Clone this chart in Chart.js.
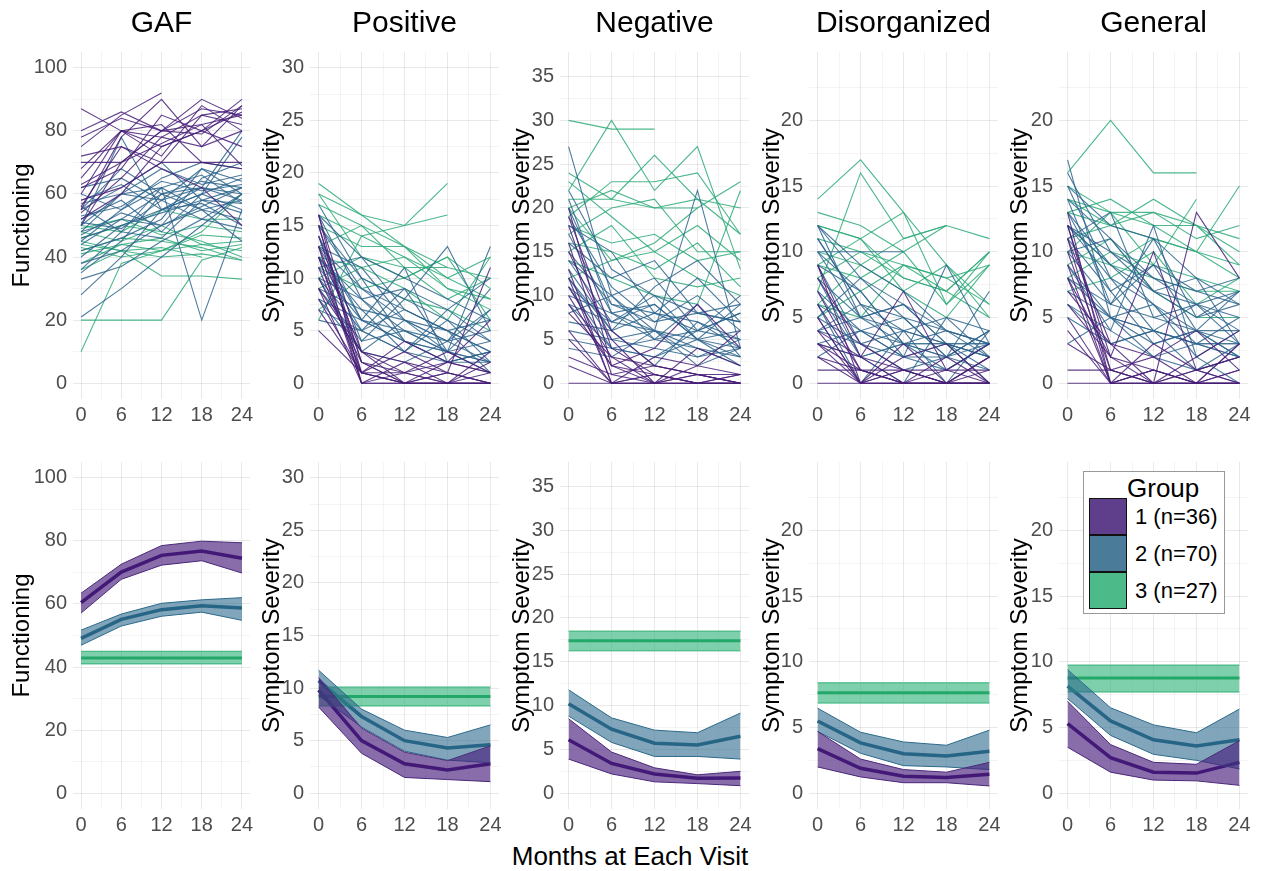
<!DOCTYPE html>
<html>
<head>
<meta charset="utf-8">
<script src="https://cdn.jsdelivr.net/npm/chart.js@4.4.1/dist/chart.umd.min.js"></script>
<style>
  body { margin: 0; background: #fff; font-family: "Liberation Sans", Arial, sans-serif; }
  #wrap { position: relative; width: 1269px; height: 871px; overflow: hidden; }
  canvas { position: absolute; }
  .ttl { position: absolute; font-size: 30px; line-height: 30px; color: #000; text-align: center; }
  #xlab { position: absolute; left: 0; width: 1260px; top: 843px; font-size: 26px; line-height: 26px; text-align: center; }
  #legend { position: absolute; left: 1083px; top: 471px; width: 140px; height: 141px; border: 1px solid #999; background: #fff; }
  #legend .gt { position: absolute; left: 43px; top: 3px; font-size: 26px; line-height: 26px; }
  #legend .sw { position: absolute; left: 5px; width: 36px; height: 35px; border: 1.5px solid #111; }
  #legend .lb { position: absolute; left: 51px; font-size: 22px; line-height: 22px; }
</style>
</head>
<body>
<div id="wrap"></div>
<script>
// visit months
const months = [0, 6, 12, 18, 24];
const panels = ['GAF', 'Positive', 'Negative', 'Disorganized', 'General'];
const yTitles = ['Functioning', 'Symptom Severity', 'Symptom Severity', 'Symptom Severity', 'Symptom Severity'];
const groupLabels = ['1 (n=36)', '2 (n=70)', '3 (n=27)'];

// ---- individual trajectories (top row), per group ----
const gafG1 = [[60,80,78,85,87],[70,70,80,82,85],[55,78,90,75,88],[87,80,75,80,86],[75,85,92,null,null],
  [50,70,80,90,84],[58,62,70,70,70],[65,80,72,88,80],[52,60,75,80,90],[78,84,80,87,85],[56,75,68,62,50],
  [62,68,85,80,75],[68,80,82,70,68],[72,75,70,85,82],[54,65,78,75,80],[80,86,80,79,88],[63,70,76,82,69]];
const gafG2 = [[50,60,58,62,60],[45,55,62,55,58],[40,50,55,60,65],[55,62,70,58,62],[48,52,50,65,70],
  [35,45,60,55,52],[60,55,65,70,68],[52,58,48,60,55],[48,60,62,20,55],[28,40,55,62,58],[55,68,60,62,80],
  [38,42,50,55,45],[62,65,58,68,60],[21,30,40,50,60],[50,78,55,60,78],[46,50,54,58,57],
  [53,56,64,61,63],[42,46,52,68,64],[58,63,55,57,50],[44,52,60,64,62],[51,49,58,52,60],[36,48,46,58,54],
  [57,60,68,63,66],[47,54,50,56,62],[33,37,45,52,49],[56,48,62,66,57]];
const gafG3 = [[44,42,43,40,null],[48,45,50,44,42],[10,38,42,44,45],[20,20,20,39,43],[45,42,34,34,33],
  [42,46,45,43,39],[50,48,55,52,52],[38,44,42,48,60],
  [41,44,46,42,44],[46,50,48,45,40],[43,40,42,47,46],[49,52,47,50,48],[36,42,40,41,39]];

const posG1 = [[15,1,0,0,0],[12,0,2,1,0],[10,2,1,3,1],[16,3,0,2,1],[8,1,0,0,3],[5,1,1,0,0],
  [13,0,0,1,11],[9,3,2,0,0],[11,1,4,2,6],[14,2,0,0,1],
  [12,1,0,1,0],[9,0,1,0,0],[15,2,0,0,2],[7,1,3,1,0],[13,3,1,2,1],[16,0,0,0,0]];
const posG2 = [[13,6,4,2,3],[16,8,5,4,2],[10,5,9,3,2],[12,7,3,6,4],[15,9,6,4,9],[9,4,5,3,1],
  [11,12,7,5,3],[17,10,8,13,5],[8,3,6,4,7],[14,6,11,2,3],[12,5,3,7,4],[10,8,4,2,2],[7,5,7,5,3],[13,11,6,3,13],
  [11,6,5,3,4],[14,4,8,6,2],[9,7,6,5,6],[15,10,4,3,7],[6,5,3,2,3],[13,9,7,5,1],[10,3,2,4,5],
  [16,12,10,8,6],[12,8,9,7,10],[8,6,4,3,2]];
const posG3 = [[18,16,15,19,null],[19,16,13,10,12],[6,14,15,16,null],[10,12,11,11,null],[15,13,13,9,8],
  [7,10,8,7,5],[12,11,9,6,12],[18,12,10,12,9],
  [16,14,12,10,8],[13,15,13,11,10],[9,11,12,9,7],[17,15,11,8,10],[11,9,10,12,6]];

const negG1 = [[20,2,0,1,0],[12,0,1,0,0],[8,3,2,1,0],[15,5,0,2,1],[5,0,0,0,1],[0,0,0,0,0],
  [10,2,4,9,4],[18,4,1,0,0],[3,1,2,1,1],[13,0,3,2,6],
  [16,1,0,0,0],[9,2,1,0,1],[19,6,2,1,0],[6,0,1,0,0],[11,3,0,4,2],[2,0,0,1,0]];
const negG2 = [[27,10,6,5,4],[14,7,9,5,3],[20,9,7,10,6],[10,8,5,6,8],[6,5,4,3,5],[16,12,14,8,7],
  [12,6,11,14,9],[8,10,5,4,2],[21,8,6,22,4],[11,4,3,6,10],[18,15,8,12,7],[4,3,6,2,4],[9,7,10,5,9],[13,6,2,7,5],
  [15,9,8,6,5],[19,11,7,8,9],[12,5,6,4,3],[7,6,8,7,4],[17,8,9,5,6],[9,4,5,9,3],[22,13,10,8,7],
  [14,10,12,6,8],[5,4,3,5,2],[11,7,6,3,4]];
const negG3 = [[30,29,29,null,null],[22,30,22,27,13],[24,21,26,21,20],[21,21,20,20,null],[19,23,23,24,17],
  [17,20,21,15,15],[15,18,12,11,12],[20,14,16,20,23],[14,12,10,9,22],
  [18,16,17,14,15],[23,19,15,18,14],[16,15,13,16,11],[20,22,20,21,17],[12,14,15,12,10]];

const disG1 = [[9,0,0,0,0],[6,1,0,2,0],[3,0,1,0,0],[4,2,7,1,3],[2,0,0,0,1],[8,3,1,0,2],
  [1,1,0,0,0],[5,0,2,3,0],[0,0,0,0,0],[3,2,1,0,2],
  [7,1,0,0,0],[5,0,1,1,0],[3,1,0,0,2],[9,2,0,1,1],[4,0,3,0,0],[2,1,1,0,0]];
const disG2 = [[12,5,3,2,3],[11,6,4,3,2],[7,4,5,2,4],[9,3,2,9,3],[4,5,6,4,2],[10,7,3,1,3],
  [3,2,3,2,1],[6,0,4,0,4],[10,10,10,null,null],[2,4,3,3,0],[5,8,6,3,3],[8,2,0,5,4],[4,3,1,2,7],[12,9,7,4,3],
  [8,5,4,3,2],[6,4,2,3,3],[11,6,5,2,4],[5,3,4,5,2],[9,7,3,3,1],[3,4,2,1,3],[7,2,3,4,3],
  [10,5,6,3,2],[4,6,2,2,4],[12,8,5,4,3]];
const disG3 = [[14,17,13,9,5],[7,16,11,12,null],[12,11,13,6,10],[10,9,11,12,11],[8,10,8,7,10],
  [5,7,9,8,6],[9,11,7,5,9],[6,5,9,7,5],
  [11,10,9,8,9],[13,12,10,12,null],[9,8,10,6,9],[6,9,7,9,6],[12,11,8,7,10]];

const genG1 = [[13,0,0,0,0],[10,1,2,0,1],[8,0,0,13,8],[12,2,10,1,0],[5,0,1,0,3],[1,1,0,0,0],
  [7,3,0,2,4],[0,0,1,0,0],[11,0,3,1,2],[6,2,0,0,1],
  [9,0,1,0,0],[12,1,0,1,2],[4,0,0,0,0],[8,2,1,0,3],[11,3,2,4,1],[3,1,0,1,0]];
const genG2 = [[17,5,4,3,2],[15,12,11,8,6],[12,8,4,3,3],[14,6,9,4,7],[10,11,7,8,3],[9,4,12,2,0],
  [11,13,5,6,4],[13,7,3,4,2],[6,4,2,1,3],[16,10,8,7,8],[8,6,11,5,7],[5,3,4,1,2],[12,9,6,2,4],[3,5,4,6,3],
  [13,9,7,5,6],[10,6,5,4,3],[14,11,8,6,5],[7,5,3,4,2],[11,7,9,7,6],[9,5,6,3,2],[15,8,6,4,4],
  [6,3,4,3,5],[12,10,7,6,7],[8,5,2,3,3]];
const genG3 = [[16,20,16,16,null],[15,13,12,10,15],[14,13,13,12,11],[13,12,14,12,9],[10,13,9,14,null],
  [12,9,8,7,7],[9,11,7,5,5],[7,8,10,6,8],
  [14,12,11,10,9],[11,12,13,11,12],[13,14,12,12,10],[8,10,9,8,7],[10,9,11,10,8]];

// ---- group means and bands (bottom row), [group1, group2, group3] ----
const gafMean  = [[60.4,70.1,75.4,76.8,74.5],[49.1,55.1,58.2,59.4,58.7],[42.9,42.9,42.9,42.9,42.9]];
const gafLower = [[57.1,67.8,72.3,73.7,69.8],[46.9,53.0,56.1,57.4,54.8],[41.0,41.0,41.0,41.0,41.0]];
const gafUpper = [[63.4,72.6,78.5,79.9,79.4],[51.7,56.8,60.2,61.3,62.0],[45.0,45.0,45.0,45.0,45.0]];

const posMean  = [[9.8,5.0,2.8,2.2,2.8],[10.7,7.3,5.0,4.3,4.6],[9.2,9.2,9.2,9.2,9.2]];
const posLower = [[8.2,3.8,1.5,1.3,1.1],[9.3,6.3,4.0,3.15,2.9],[8.3,8.3,8.3,8.3,8.3]];
const posUpper = [[11.0,6.2,3.9,3.1,4.5],[11.7,8.0,6.0,5.3,6.5],[10.1,10.1,10.1,10.1,10.1]];

const negMean  = [[6.1,3.4,2.2,1.7,1.75],[10.2,7.3,5.7,5.5,6.5],[17.4,17.4,17.4,17.4,17.4]];
const negLower = [[3.9,2.2,1.3,1.1,0.86],[8.8,5.8,4.2,4.2,3.9],[16.25,16.25,16.25,16.25,16.25]];
const negUpper = [[8.5,4.7,2.9,2.1,2.5],[11.8,8.6,7.2,6.9,9.15],[18.5,18.5,18.5,18.5,18.5]];

const disMean  = [[3.4,1.9,1.3,1.2,1.45],[5.5,3.83,3.0,2.84,3.2],[7.65,7.65,7.65,7.65,7.65]];
const disLower = [[2.0,1.24,0.8,0.8,0.55],[4.7,3.04,2.1,2.0,1.8],[6.86,6.86,6.86,6.86,6.86]];
const disUpper = [[4.7,2.6,1.8,1.6,2.35],[6.47,4.64,3.9,3.65,4.8],[8.4,8.4,8.4,8.4,8.4]];

const genMean  = [[5.3,2.7,1.6,1.53,2.35],[8.15,5.5,4.07,3.6,4.07],[8.77,8.77,8.77,8.77,8.77]];
const genLower = [[3.5,1.6,1.0,0.94,0.6],[7.2,4.4,2.96,2.5,1.85],[7.7,7.7,7.7,7.7,7.7]];
const genUpper = [[7.0,3.7,2.35,2.2,4.0],[9.4,6.5,5.2,4.6,6.4],[9.75,9.75,9.75,9.75,9.75]];

const spaghetti = [[gafG1,gafG2,gafG3],[posG1,posG2,posG3],[negG1,negG2,negG3],[disG1,disG2,disG3],[genG1,genG2,genG3]];
const means  = [gafMean, posMean, negMean, disMean, genMean];
const lowers = [gafLower, posLower, negLower, disLower, genLower];
const uppers = [gafUpper, posUpper, negUpper, disUpper, genUpper];

// y axis: range, top tick, major step (minor = half)
const yMin   = [-5, -1.5, -1.8, -1.2, -1.2];
const yMax   = [105, 31.5, 37.8, 25.2, 25.2];
const yTop   = [100, 30, 35, 22.5, 22.5];
const yMajor = [20, 5, 5, 5, 5];

// colours
const lineCols = ['rgba(70,30,120,0.85)', 'rgba(45,100,140,0.85)', 'rgba(45,170,120,0.85)'];
const bandFill = ['rgba(72,30,125,0.65)', 'rgba(45,105,140,0.6)', 'rgba(40,175,115,0.6)'];
const bandEdge = ['#4b2a7a', '#2c6a8a', '#35b27a'];
const meanCols = ['#3b0f6f', '#1f5f80', '#1f9e5e'];
const swatch   = ['#5f3f8b', '#4a7b98', '#4dba89'];

// layout
const plotL = [73, 310, 560, 809, 1059];
const plotW = [177, 189, 189, 189, 189];
const canvL = [8, 258, 508, 758, 1006];
const rowTop = [44, 454];
const plotH = 355, padT = 10, padR = 10, xAxisH = 30;
const fontFam = '"Liberation Sans", Arial, sans-serif';

const wrap = document.getElementById('wrap');

function pts(vals) {
  return months.map((m, i) => ({x: m, y: vals[i]}));
}

function makePanel(col, row) {
  const cv = document.createElement('canvas');
  const yw = plotL[col] - canvL[col];
  const w = yw + plotW[col] + padR;
  const h = padT + plotH + xAxisH;
  cv.width = w; cv.height = h;
  cv.style.left = canvL[col] + 'px';
  cv.style.top = (rowTop[row] - padT) + 'px';
  wrap.appendChild(cv);

  let datasets = [];
  if (row === 0) {
    spaghetti[col].forEach((grp, g) => {
      grp.forEach(tr => datasets.push({
        data: pts(tr), borderColor: lineCols[g], borderWidth: 1.1,
        pointRadius: 0, fill: false, tension: 0, spanGaps: false
      }));
    });
  } else {
    for (let g = 0; g < 3; g++) {
      datasets.push({data: pts(uppers[col][g]), borderColor: bandEdge[g], borderWidth: 1,
        backgroundColor: bandFill[g], fill: '+1', pointRadius: 0, tension: 0});
      datasets.push({data: pts(lowers[col][g]), borderColor: bandEdge[g], borderWidth: 1,
        fill: false, pointRadius: 0, tension: 0});
    }
    for (let g = 0; g < 3; g++) {
      datasets.push({data: pts(means[col][g]), borderColor: meanCols[g], borderWidth: g === 2 ? 3 : 3.5,
        fill: false, pointRadius: 0, tension: 0});
    }
  }

  const major = yMajor[col];
  const yTicks = [];
  for (let v = 0; v <= yTop[col] + 0.001; v += major / 2) yTicks.push({value: v});
  const xTicks = [];
  for (let v = 0; v <= 24; v += 3) xTicks.push({value: v});
  const gridCol = (isMajor) => isMajor ? 'rgba(0,0,0,0.085)' : 'rgba(0,0,0,0.045)';

  new Chart(cv.getContext('2d'), {
    type: 'line',
    data: {datasets: datasets},
    options: {
      responsive: false,
      animation: false,
      devicePixelRatio: 1,
      layout: {padding: {top: padT, right: padR, left: 0, bottom: 0}},
      plugins: {legend: {display: false}, tooltip: {enabled: false}},
      scales: {
        x: {
          type: 'linear', min: -1.2, max: 25.2,
          afterBuildTicks: s => { s.ticks = xTicks.map(t => ({value: t.value})); },
          afterFit: s => { s.height = xAxisH; },
          border: {display: false},
          grid: {drawTicks: false, color: c => gridCol(c.tick && c.tick.value % 6 === 0)},
          ticks: {
            padding: 4, color: '#4d4d4d', maxRotation: 0, autoSkip: false,
            font: {family: fontFam, size: 20},
            callback: v => (v % 6 === 0 ? String(v) : '')
          }
        },
        y: {
          type: 'linear', min: yMin[col], max: yMax[col],
          afterBuildTicks: s => { s.ticks = yTicks.map(t => ({value: t.value})); },
          afterFit: s => { s.width = yw; },
          border: {display: false},
          grid: {drawTicks: false, color: c => gridCol(c.tick && c.tick.value % major === 0)},
          title: {
            display: true, text: yTitles[col], color: '#000', padding: 0,
            font: {family: fontFam, size: 24}
          },
          ticks: {
            padding: 6, color: '#4d4d4d', autoSkip: false,
            font: {family: fontFam, size: 20},
            callback: v => (v % major === 0 ? String(v) : '')
          }
        }
      }
    }
  });
}

for (let c = 0; c < 5; c++) {
  makePanel(c, 0);
  makePanel(c, 1);
  const t = document.createElement('div');
  t.className = 'ttl';
  t.textContent = panels[c];
  t.style.left = (plotL[c] - 20) + 'px';
  t.style.width = (plotW[c] + 40) + 'px';
  t.style.top = '7px';
  wrap.appendChild(t);
}

const xl = document.createElement('div');
xl.id = 'xlab';
xl.textContent = 'Months at Each Visit';
wrap.appendChild(xl);

// legend box in the General panel
const lg = document.createElement('div');
lg.id = 'legend';
let html = '<div class="gt">Group</div>';
groupLabels.forEach((lab, i) => {
  const top = 26 + i * 37;
  html += `<div class="sw" style="top:${top}px;background:${swatch[i]}"></div>`;
  html += `<div class="lb" style="top:${top + 8}px">${lab}</div>`;
});
lg.innerHTML = html;
wrap.appendChild(lg);
</script>
</body>
</html>
